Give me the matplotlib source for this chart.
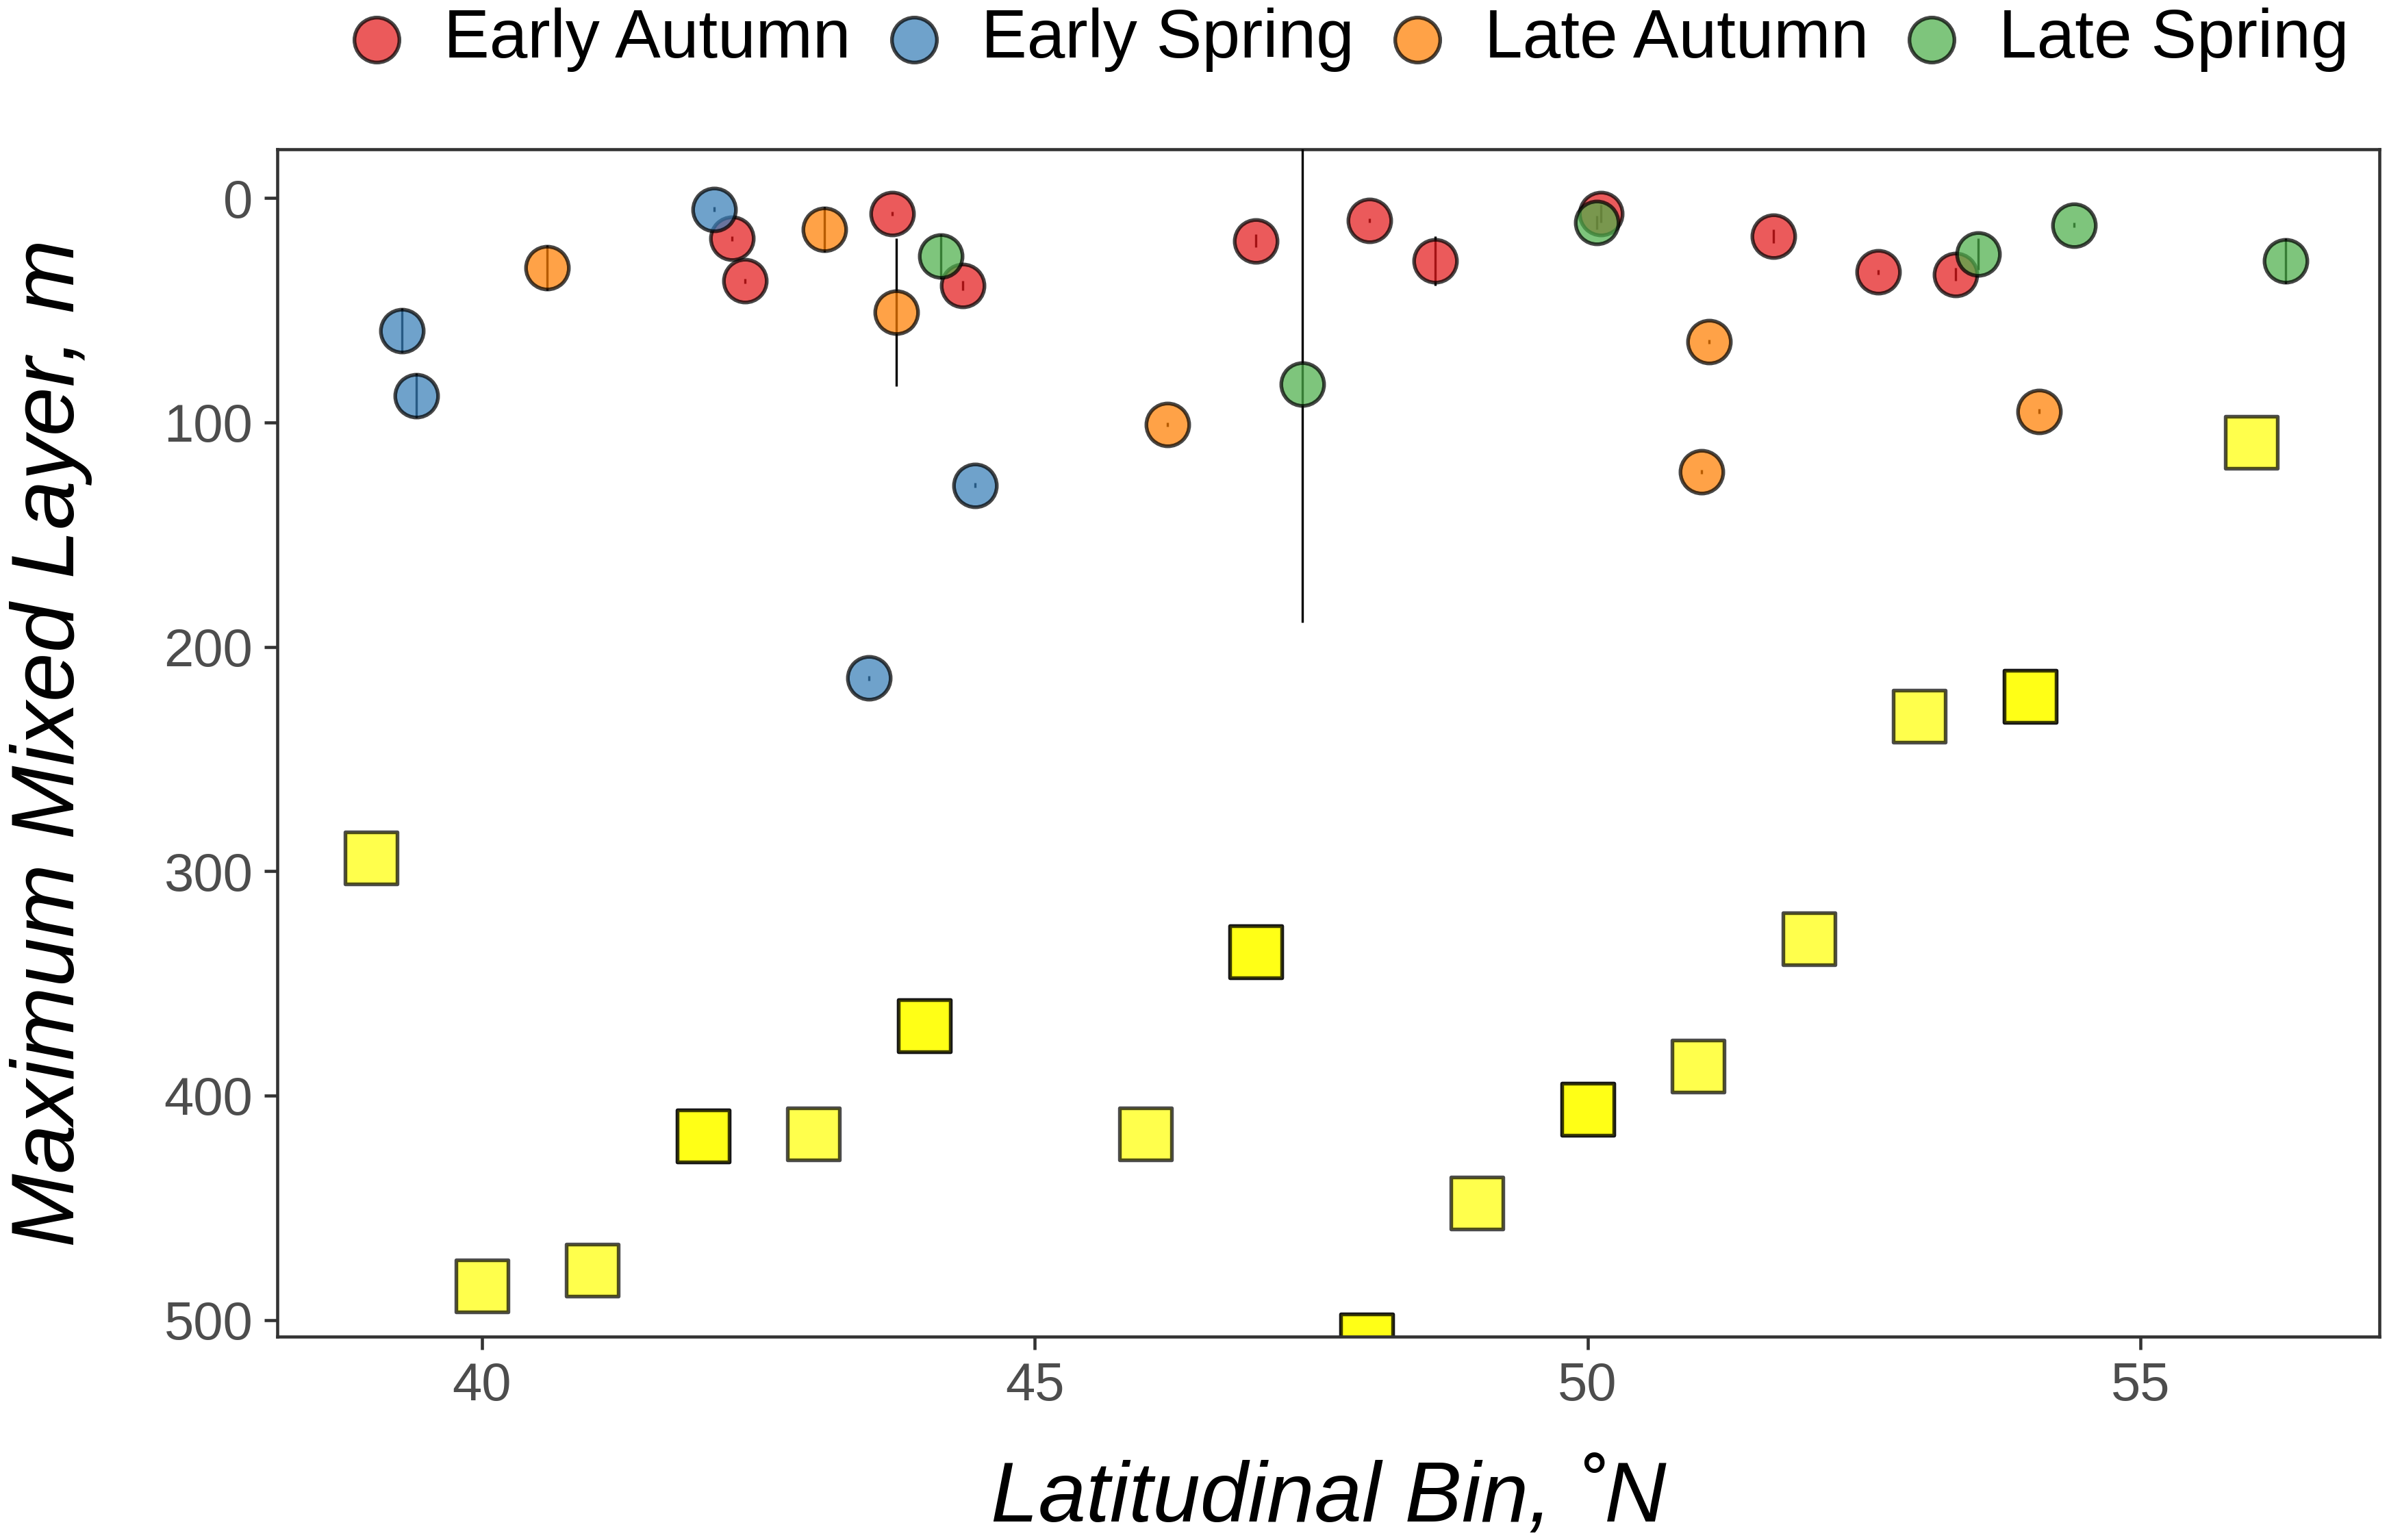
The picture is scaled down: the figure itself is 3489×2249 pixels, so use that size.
import numpy as np
import matplotlib.pyplot as plt

plt.rcParams['font.family'] = ['Liberation Sans', 'DejaVu Sans']

# seasonal mixed-layer points: latitude, depth (m), error (m)
ea_lat = [42.26, 42.38, 43.71, 44.35, 47.0, 48.03, 48.62, 50.12, 51.68, 52.63, 53.33]
ea_mld = [18, 37, 7, 39, 19, 10, 28, 7, 17, 33, 34]
ea_err = [1, 1, 1, 2, 3, 1, 11, 4, 3, 1, 3]

es_lat = [42.1, 39.28, 39.41, 43.5, 44.46]
es_mld = [5, 59, 88, 214, 128]
es_err = [1, 10, 10, 1, 1]

la_lat = [40.59, 43.1, 43.75, 46.2, 51.03, 51.1, 54.08]
la_mld = [31, 14, 51, 101, 122, 64, 95]
la_err = [10, 10, 33, 1, 1, 1, 1]

ls_lat = [44.15, 47.42, 50.08, 53.53, 54.4, 56.31]
ls_mld = [26, 83, 11, 25, 12, 28]
ls_err = [10, 106, 3, 7, 1, 10]

# maximum mixed layer by bin (repeated bins overlap)
bin_lat = [39, 40, 41, 42, 42, 43, 44, 44, 46, 47, 47, 48, 48, 49, 50, 50, 51, 52, 53, 54, 54, 56]
bin_mld = [294, 485, 478, 418, 418, 417, 369, 369, 417, 336, 336, 509, 509, 448, 406, 406, 387, 330, 231, 222, 222, 109]

series = [
    ('Early Autumn', ea_lat, ea_mld, ea_err, '#E41A1C'),
    ('Early Spring', es_lat, es_mld, es_err, '#377EB8'),
    ('Late Autumn', la_lat, la_mld, la_err, '#FF7F00'),
    ('Late Spring', ls_lat, ls_mld, ls_err, '#4DAF4A'),
]

fig = plt.figure(figsize=(3489 / 300, 2249 / 300), dpi=300)
ax = fig.add_axes([0.116, 0.132, 0.88, 0.771])

ax.scatter(bin_lat, bin_mld, marker='s', s=330, facecolor='#FFFF00', edgecolor='black',
           linewidth=1.3, alpha=0.7, zorder=2, clip_on=True)

for name, lat, mld, err, col in series:
    ax.errorbar(lat, mld, yerr=err, fmt='none', ecolor='black', elinewidth=0.8, zorder=3)
for name, lat, mld, err, col in series:
    ax.scatter(lat, mld, s=225, color=col, edgecolor='black', linewidth=1.3,
               alpha=0.72, zorder=4, label=name)

ax.set_xlim(38.15, 57.16)
ax.set_ylim(507.5, -21.7)
ax.set_xticks([40, 45, 50, 55])
ax.set_yticks([0, 100, 200, 300, 400, 500])

for sp in ax.spines.values():
    sp.set_color('#333333')
    sp.set_linewidth(1.1)
ax.tick_params(axis='both', labelsize=18.7, labelcolor='#4D4D4D', color='#333333',
               length=4.5, width=1.1, pad=4)

ax.set_xlabel('Latitudinal Bin, ˚N', fontsize=30, style='italic', labelpad=17)
ax.set_ylabel('Maximum Mixed Layer, m', fontsize=31, style='italic', labelpad=25)

fig.legend(loc='upper right', bbox_to_anchor=(1.009, 1.035), ncol=4, frameon=False,
           fontsize=24, handlelength=1.0, handletextpad=0.48, columnspacing=0.42,
           markerscale=1.05)

fig.savefig('out.png', dpi=300)
